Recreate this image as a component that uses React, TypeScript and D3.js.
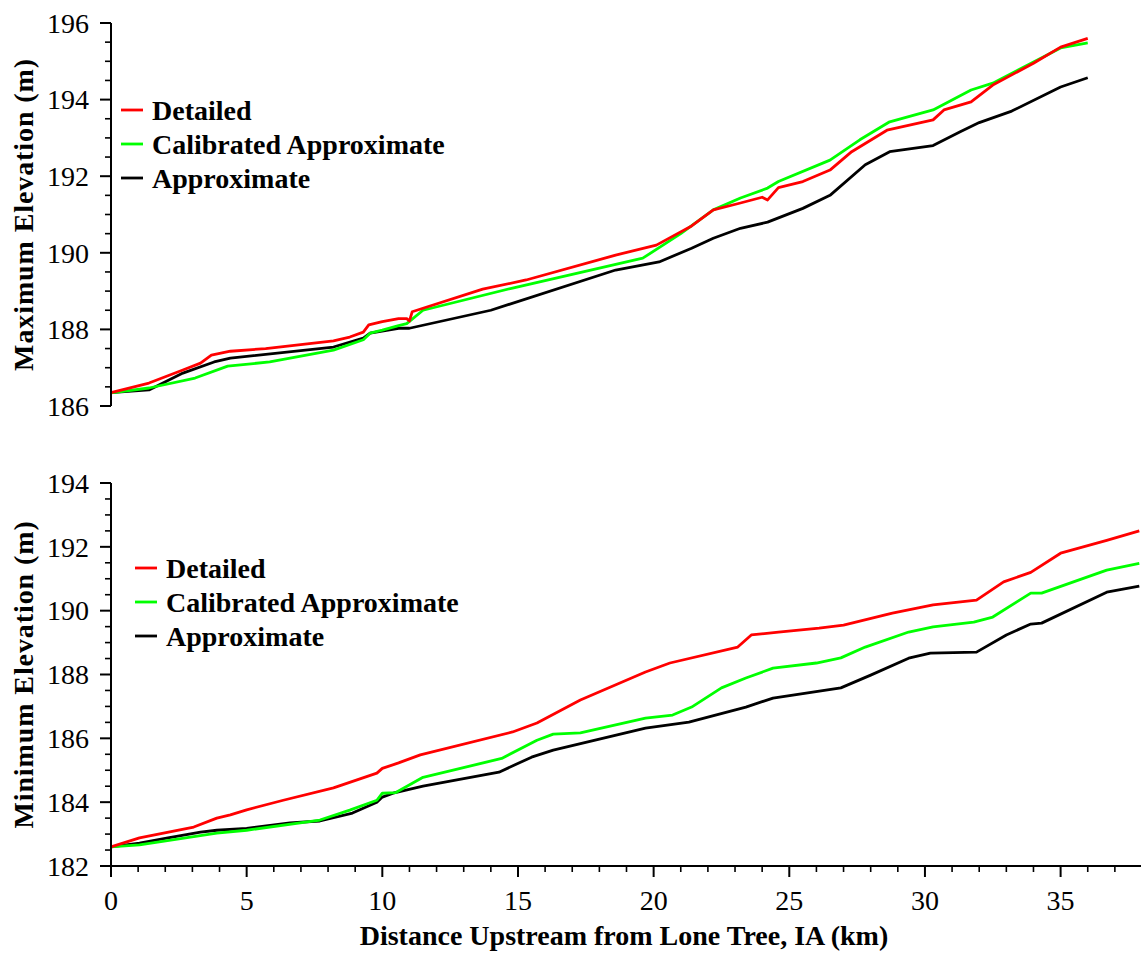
import React from "react";
import * as d3 from "d3";

// ---------- data ----------
const seriesNames = ["Detailed", "Calibrated Approximate", "Approximate"];
const seriesColors = ["#ff0000", "#00ff00", "#000000"];

const kmMaxDetailed = [0, 1.4, 2.65, 3.3, 3.7, 4.4, 5.7, 8.2, 8.8, 9.3, 9.5, 10.0, 10.6, 10.9, 11.0, 11.1, 13.7, 15.3, 18.6, 20.1, 21.4, 22.2, 23.2, 24.0, 24.2, 24.6, 25.5, 26.5, 27.3, 28.6, 30.3, 30.7, 31.7, 32.5, 34.0, 35.0, 36.0];
const elevMaxDetailed = [186.35, 186.6, 186.94, 187.12, 187.33, 187.43, 187.5, 187.7, 187.8, 187.93, 188.12, 188.2, 188.28, 188.28, 188.22, 188.46, 189.05, 189.29, 189.94, 190.2, 190.7, 191.12, 191.3, 191.45, 191.38, 191.7, 191.86, 192.16, 192.64, 193.2, 193.47, 193.73, 193.94, 194.38, 194.95, 195.37, 195.6];

const kmMaxCalibrated = [0, 1.4, 3.1, 4.3, 5.85, 8.2, 9.3, 9.55, 10.0, 10.6, 10.9, 11.5, 14.8, 19.6, 21.0, 22.2, 23.2, 24.2, 24.6, 26.5, 27.6, 28.7, 30.3, 31.7, 32.5, 35.0, 36.0];
const elevMaxCalibrated = [186.34, 186.47, 186.73, 187.04, 187.15, 187.46, 187.73, 187.9, 187.98, 188.1, 188.15, 188.5, 189.08, 189.86, 190.5, 191.12, 191.43, 191.69, 191.86, 192.42, 192.95, 193.42, 193.73, 194.25, 194.43, 195.35, 195.48];

const kmMaxApprox = [0, 1.4, 2.65, 3.8, 4.4, 8.2, 9.3, 9.55, 10.6, 11.0, 14.0, 18.6, 20.2, 21.4, 22.2, 23.2, 24.2, 25.5, 26.5, 27.8, 28.7, 30.3, 31.3, 32.0, 33.2, 35.0, 36.0];
const elevMaxApprox = [186.35, 186.42, 186.86, 187.15, 187.25, 187.54, 187.77, 187.9, 188.03, 188.03, 188.5, 189.55, 189.76, 190.12, 190.38, 190.64, 190.8, 191.16, 191.5, 192.3, 192.64, 192.8, 193.16, 193.4, 193.7, 194.33, 194.57];

const kmMinDetailed = [0, 1.05, 3.05, 3.9, 4.4, 5.0, 6.35, 8.2, 9.8, 10.0, 10.6, 11.4, 14.8, 15.7, 17.3, 19.7, 20.6, 23.1, 23.6, 24.6, 26.1, 27.0, 28.8, 30.3, 31.9, 32.9, 33.9, 35.0, 36.7, 37.9];
const elevMinDetailed = [182.6, 182.88, 183.22, 183.5, 183.6, 183.76, 184.06, 184.45, 184.91, 185.06, 185.23, 185.48, 186.2, 186.48, 187.2, 188.08, 188.36, 188.86, 189.24, 189.33, 189.45, 189.55, 189.92, 190.18, 190.33, 190.9, 191.2, 191.8, 192.2, 192.5];

const kmMinCalibrated = [0, 1.05, 3.9, 5.0, 7.7, 8.8, 9.8, 10.0, 10.5, 11.5, 14.4, 15.7, 16.3, 17.3, 19.7, 20.7, 21.4, 22.5, 23.4, 24.4, 26.0, 26.9, 27.8, 29.4, 30.3, 31.8, 32.5, 33.9, 34.3, 36.7, 37.9];
const elevMinCalibrated = [182.6, 182.66, 183.03, 183.12, 183.44, 183.75, 184.06, 184.28, 184.3, 184.78, 185.37, 185.94, 186.13, 186.17, 186.63, 186.73, 186.98, 187.58, 187.89, 188.2, 188.36, 188.52, 188.86, 189.33, 189.49, 189.64, 189.8, 190.55, 190.55, 191.27, 191.48];

const kmMinApprox = [0, 1.05, 2.1, 3.3, 3.9, 5.0, 6.6, 7.7, 8.9, 9.8, 10.0, 10.4, 11.5, 14.3, 15.5, 16.3, 19.7, 21.3, 23.4, 24.4, 26.9, 28.0, 29.4, 30.2, 31.9, 33.0, 33.9, 34.3, 36.7, 37.9];
const elevMinApprox = [182.6, 182.72, 182.88, 183.06, 183.12, 183.18, 183.35, 183.41, 183.66, 184.0, 184.16, 184.28, 184.5, 184.94, 185.41, 185.63, 186.32, 186.51, 186.98, 187.26, 187.58, 187.98, 188.51, 188.67, 188.7, 189.24, 189.58, 189.61, 190.58, 190.77];

const xTickValues = [0, 5, 10, 15, 20, 25, 30, 35];
const topYTicks = [186, 188, 190, 192, 194, 196];
const bottomYTicks = [182, 184, 186, 188, 190, 192, 194];

const xTitle = "Distance Upstream from Lone Tree, IA (km)";
const topYTitle = "Maximum Elevation (m)";
const bottomYTitle = "Minimum Elevation (m)";

// ---------- layout ----------
const W = 1141;
const H = 953;
const FONT = "'Liberation Serif', 'Times New Roman', serif";

const zip = (xs: number[], ys: number[]) => xs.map((x, i) => [x, ys[i]] as [number, number]);

export default function App() {
  const x = d3.scaleLinear().domain([0, 38]).range([111, 1142]);
  const yTop = d3.scaleLinear().domain([186, 196]).range([406, 23]);
  const yBot = d3.scaleLinear().domain([182, 194]).range([866, 483]);

  const topSeries = [
    zip(kmMaxDetailed, elevMaxDetailed),
    zip(kmMaxCalibrated, elevMaxCalibrated),
    zip(kmMaxApprox, elevMaxApprox),
  ];
  const botSeries = [
    zip(kmMinDetailed, elevMinDetailed),
    zip(kmMinCalibrated, elevMinCalibrated),
    zip(kmMinApprox, elevMinApprox),
  ];

  const renderPanel = (
    y: d3.ScaleLinear<number, number>,
    series: [number, number][][],
    majors: number[],
    title: string,
    legendX: number,
    legendY: number,
    key: string
  ) => {
    const [d0, d1] = y.domain();
    const minors = d3.range(d0, d1 + 0.001, 0.5).filter((v) => !majors.includes(v));
    const line = d3
      .line<[number, number]>()
      .x((d) => x(d[0]))
      .y((d) => y(d[1]));
    const x0 = x(0);
    const [yb, yt] = y.range();
    return (
      <g key={key}>
        {[2, 1, 0].map((i) => (
          <path
            key={i}
            d={line(series[i]) || ""}
            fill="none"
            stroke={seriesColors[i]}
            strokeWidth={2.8}
            strokeLinejoin="round"
          />
        ))}
        <line x1={x0} x2={x0} y1={yt} y2={yb} stroke="#000" strokeWidth={2} />
        {majors.map((v) => (
          <g key={"M" + v}>
            <line x1={x0 - 11} x2={x0} y1={y(v)} y2={y(v)} stroke="#000" strokeWidth={2} />
            <text
              x={x0 - 22}
              y={y(v)}
              dy="0.35em"
              textAnchor="end"
              fontFamily={FONT}
              fontSize={28}
            >
              {v}
            </text>
          </g>
        ))}
        {minors.map((v) => (
          <line key={"m" + v} x1={x0 - 6} x2={x0} y1={y(v)} y2={y(v)} stroke="#000" strokeWidth={1.6} />
        ))}
        <text
          transform={`translate(33,${(yt + yb) / 2}) rotate(-90)`}
          textAnchor="middle"
          fontFamily={FONT}
          fontWeight="bold"
          fontSize={28}
          letterSpacing={0.9}
        >
          {title}
        </text>
        {seriesNames.map((name, i) => (
          <g key={name} transform={`translate(${legendX},${legendY + i * 34})`}>
            <line x1={0} x2={22} y1={0} y2={0} stroke={seriesColors[i]} strokeWidth={2.8} />
            <text x={31} y={0} dy="0.35em" fontFamily={FONT} fontWeight="bold" fontSize={28}>
              {name}
            </text>
          </g>
        ))}
      </g>
    );
  };

  const xMinors = d3.range(0, 39, 1).filter((v) => v % 5 !== 0);
  const axisY = yBot.range()[0];

  return (
    <svg
      width={W}
      height={H}
      viewBox={`0 0 ${W} ${H}`}
      style={{ position: "absolute", left: 0, top: 0, background: "#fff" }}
    >
      <rect x={0} y={0} width={W} height={H} fill="#fff" />
      {renderPanel(yTop, topSeries, topYTicks, topYTitle, 121, 110, "top")}
      {renderPanel(yBot, botSeries, bottomYTicks, bottomYTitle, 135, 568, "bot")}
      <line x1={x(0) - 1} x2={W} y1={axisY} y2={axisY} stroke="#000" strokeWidth={2} />
      {xTickValues.map((v) => (
        <g key={"x" + v}>
          <line x1={x(v)} x2={x(v)} y1={axisY} y2={axisY + 11} stroke="#000" strokeWidth={2} />
          <text x={x(v)} y={910} textAnchor="middle" fontFamily={FONT} fontSize={28}>
            {v}
          </text>
        </g>
      ))}
      {xMinors.map((v) => (
        <line key={"xm" + v} x1={x(v)} x2={x(v)} y1={axisY} y2={axisY + 6} stroke="#000" strokeWidth={1.6} />
      ))}
      <text
        x={(x(0) + W) / 2 - 2}
        y={945}
        textAnchor="middle"
        fontFamily={FONT}
        fontWeight="bold"
        fontSize={28}
      >
        {xTitle}
      </text>
    </svg>
  );
}
